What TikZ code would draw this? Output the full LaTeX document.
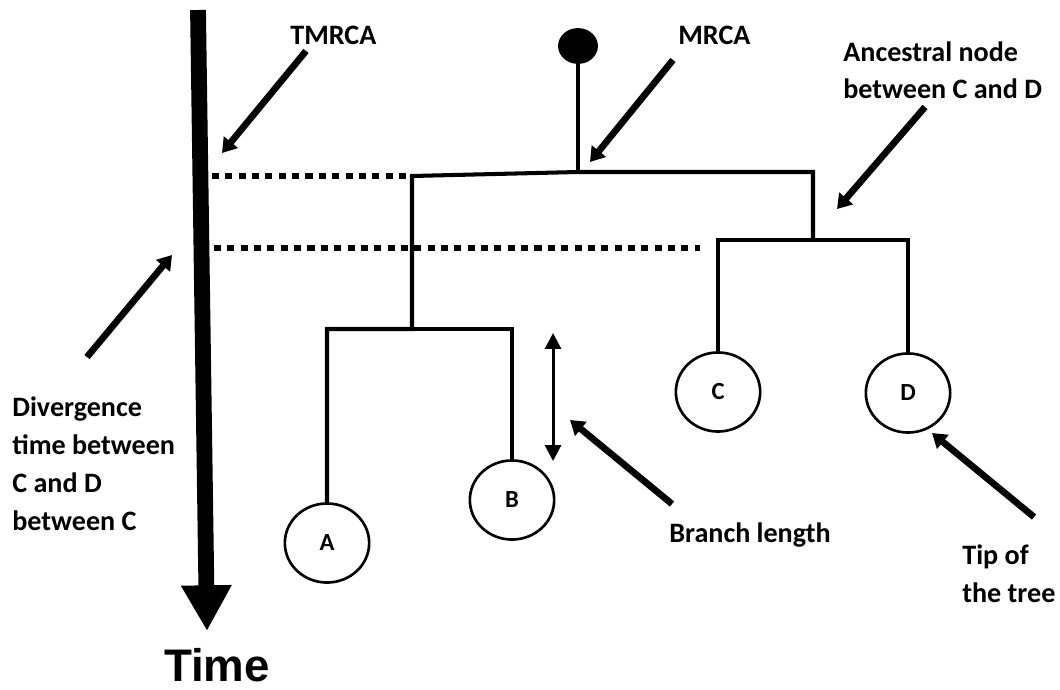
\documentclass[tikz,border=0pt]{standalone}
\usepackage{fontspec}
\setmainfont{Carlito}
\newfontfamily\timefont{Liberation Sans}
\usetikzlibrary{positioning,shapes.geometric,arrows.meta}

\tikzset{
  branch/.style={line width=2.3pt, line join=miter},
  tipnode/.style={draw, ellipse, line width=1.5pt, minimum width=48pt, minimum height=45pt,
    inner sep=0pt, font=\bfseries\fontsize{14}{14}\selectfont},
  pointer/.style={-{Triangle[width=10pt,length=8pt]}, line width=3.8pt},
  note/.style={font=\bfseries\fontsize{16}{21.5}\selectfont, inner sep=0pt, align=left, anchor=base west},
  guide/.style={line width=3.8pt, dash pattern=on 4pt off 3.6pt}
}

\begin{document}
\begin{tikzpicture}[x=0.02cm, y=-0.02cm]
    \useasboundingbox (0,0) rectangle (1060,689);

    % time axis
    \coordinate (timetop) at (198,10);
    \coordinate (timetip) at (207,631);
    \draw[line width=9pt, -{Triangle[width=27pt,length=26pt]}] (timetop) -- (timetip);
    \node[font=\timefont\bfseries\fontsize{26}{26}\selectfont, inner sep=0pt, anchor=base] (time) at (217,681) {Time};

    % tree
    \node[fill, ellipse, minimum width=22.7pt, minimum height=20.4pt, inner sep=0pt] (root) at (578,46) {};
    \node[tipnode] (A) at (327,543) {A};
    \node[tipnode] (B) at (512,500) {B};
    \node[tipnode] (C) at (718,392) {C};
    \node[tipnode] (D) at (908,393) {D};
    \coordinate (mrca) at (578,172);
    \coordinate (abtop) at (412,176);
    \coordinate (abjoin) at (412,329);
    \coordinate (cdtop) at (813,172);
    \coordinate (cdjoin) at (813,240);
    \draw[branch] (root.south) -- (mrca);
    \draw[branch] (A.north) -- (A.north |- abjoin) -- (abjoin) -- (abtop) -- (mrca) -- (cdtop) -- (cdjoin);
    \draw[branch] (abjoin) -- (B.north |- abjoin) -- (B.north);
    \draw[branch] (C.north) -- (C.north |- cdjoin) -- (D.north |- cdjoin) -- (D.north);

    % dotted time levels
    \coordinate (lvltop) at (212,176);
    \coordinate (lvlcd) at (214,248);
    \draw[guide] (lvltop) -- (abtop);
    \draw[guide] (lvlcd) -- (700,248);

    % branch length
    \coordinate (blup) at (553,333);
    \coordinate (bldown) at (553,461);
    \draw[line width=1.7pt, {Triangle[width=9pt,length=9pt]}-{Triangle[width=9pt,length=9pt]}] (blup) -- (bldown);

    % labels (base = last line)
    \node[note] (tmrca) at (290,45) {TMRCA};
    \node[note] (mrcalbl) at (678,45) {MRCA};
    \node[note] (anc) at (843,99) {Ancestral node\\between C and D};
    \node[note] (div) at (12,530) {Divergence\\time between\\C and D\\between C};
    \node[note] (bl) at (669,542) {Branch length};
    \node[note] (tip) at (962,602) {Tip of\\the tree};

    % pointers
    \coordinate (tmrcafrom) at (306,51);
    \coordinate (tmrcato) at (222,153);
    \coordinate (mrcafrom) at (673,60);
    \coordinate (mrcato) at (590,162);
    \coordinate (ancfrom) at (925,107);
    \coordinate (ancto) at (837,209);
    \coordinate (divfrom) at (87,357);
    \coordinate (divto) at (172,255);
    \coordinate (blfrom) at (672,504);
    \coordinate (blto) at (570,420);
    \coordinate (tipfrom) at (1034,517);
    \coordinate (tipto) at (932,433);
    \draw[pointer] (tmrcafrom) -- (tmrcato);
    \draw[pointer] (mrcafrom) -- (mrcato);
    \draw[pointer] (ancfrom) -- (ancto);
    \draw[pointer] (divfrom) -- (divto);
    \draw[pointer] (blfrom) -- (blto);
    \draw[pointer] (tipfrom) -- (tipto);
\end{tikzpicture}
\end{document}
